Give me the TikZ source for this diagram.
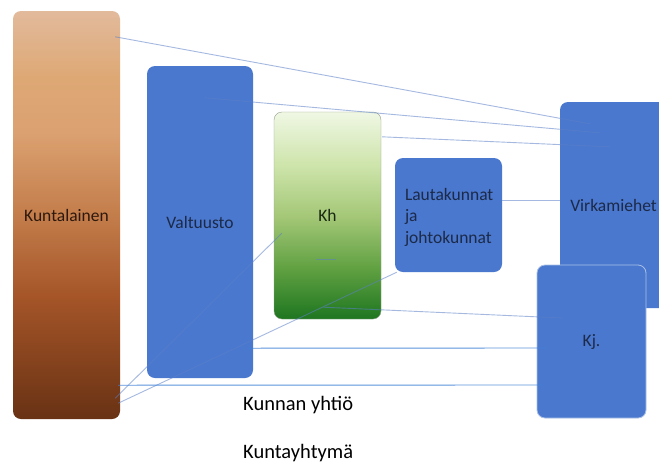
\documentclass[tikz,border=0pt]{standalone}
\usepackage{fontspec}
\setmainfont{Carlito}
\usetikzlibrary{calc}
\definecolor{boxblue}{HTML}{4A78CE}
\definecolor{labelnavy}{HTML}{1C2A48}
\definecolor{linkblue}{HTML}{5B7FC8}
\definecolor{hlinkblue}{HTML}{3F82D8}
\pgfdeclareverticalshading{kuntashade}{100bp}{
  rgb(0bp)=(0.41,0.196,0.078);
  rgb(25bp)=(0.41,0.196,0.078);
  rgb(40bp)=(0.647,0.333,0.157);
  rgb(50bp)=(0.765,0.49,0.294);
  rgb(60bp)=(0.86,0.63,0.44);
  rgb(67bp)=(0.87,0.66,0.46);
  rgb(75bp)=(0.886,0.73,0.61);
  rgb(100bp)=(0.886,0.73,0.61)}
\pgfdeclareverticalshading{khshade}{100bp}{
  rgb(0bp)=(0.118,0.463,0.125);
  rgb(25bp)=(0.118,0.463,0.125);
  rgb(37bp)=(0.373,0.627,0.255);
  rgb(50bp)=(0.647,0.784,0.47);
  rgb(62bp)=(0.804,0.894,0.667);
  rgb(75bp)=(0.94,0.97,0.894);
  rgb(100bp)=(0.94,0.97,0.894)}
\begin{document}
\begin{tikzpicture}[x=1pt,y=-1pt,
  box/.style={rectangle,rounded corners=8pt,inner sep=0pt,font=\fontsize{17.5}{21}\selectfont,text=labelnavy},
  bluebox/.style={box,fill=boxblue},
  link/.style={draw=linkblue,line width=0.9pt,opacity=0.55},
  hlink/.style={draw=hlinkblue,line width=0.9pt,opacity=0.85},
  plain/.style={font=\fontsize{20.5}{24}\selectfont,text=black,inner sep=0pt,anchor=west}]
\useasboundingbox (0,0) rectangle (659,467);
\fill[white] (0,0) rectangle (659,467);
% boxes
\node[box,minimum width=107pt,minimum height=408pt,shading=kuntashade,text={rgb,255:red,45;green,25;blue,12}]
  (kunta) at (66.5,215) {Kuntalainen};
\node[bluebox,minimum width=106pt,minimum height=312pt] (valt) at (200,222) {Valtuusto};
\node[box,minimum width=107pt,minimum height=207pt,shading=khshade,
  draw={rgb,255:red,150;green,160;blue,140},line width=0.4pt,text={rgb,255:red,25;green,40;blue,20}]
  (kh) at (327.5,215.5) {Kh};
\node[bluebox,minimum width=107pt,minimum height=114pt] (lauta) at (448.5,215) {};
\node[font=\fontsize{17.5}{21.5}\selectfont,text=labelnavy,align=left,anchor=west,inner sep=0pt]
  (lautatext) at ($(lauta.west)+(10,2)$) {Lautakunnat\\ja\\johtokunnat};
\node[bluebox,minimum width=107pt,minimum height=206pt] (virk) at (613.5,205) {Virkamiehet};
\node[bluebox,minimum width=109pt,minimum height=153pt,draw={rgb,255:red,170;green,192;blue,230},line width=0.8pt]
  (kj) at (591.5,341.5) {Kj.};
% connectors
\draw[link] ($(kunta.north east)+(-5,26)$) -- ($(virk.north west)+(30,22)$);
\draw[link] ($(valt.north east)+(-48,32)$) -- ($(virk.north west)+(40,31)$);
\draw[link] ($(kh.north east)+(1,25)$) -- ($(virk.north west)+(50,45)$);
\draw[link] ($(lauta.east)+(0,-15)$) -- ($(virk.west)+(0,-5)$);
\draw[link] ($(kunta.south east)+(-5,-21)$) -- ($(kh.south west)+(8,-86)$);
\draw[link] ($(kunta.south east)+(-2,-16)$) -- ($(lauta.south west)+(2,0)$);
\draw[link] ($(kh.center)+(-12,43.5)$) -- ($(kh.center)+(8,43.5)$);
\draw[link] ($(kh.south)+(-4,-12)$) -- ($(kj.west)+(26,-23.5)$);
\draw[hlink] ($(valt.south east)+(-5,-30)$) -- ($(kj.west)+(10,6.5)$);
\draw[hlink] ($(kunta.south east)+(-2,-34)$) -- ($(kj.west)+(6,43.5)$);
% free texts
\node[plain] (yhtio) at (243,405) {Kunnan yhtiö};
\node[plain] (yhtyma) at (243,453) {Kuntayhtymä};
\end{tikzpicture}
\end{document}
